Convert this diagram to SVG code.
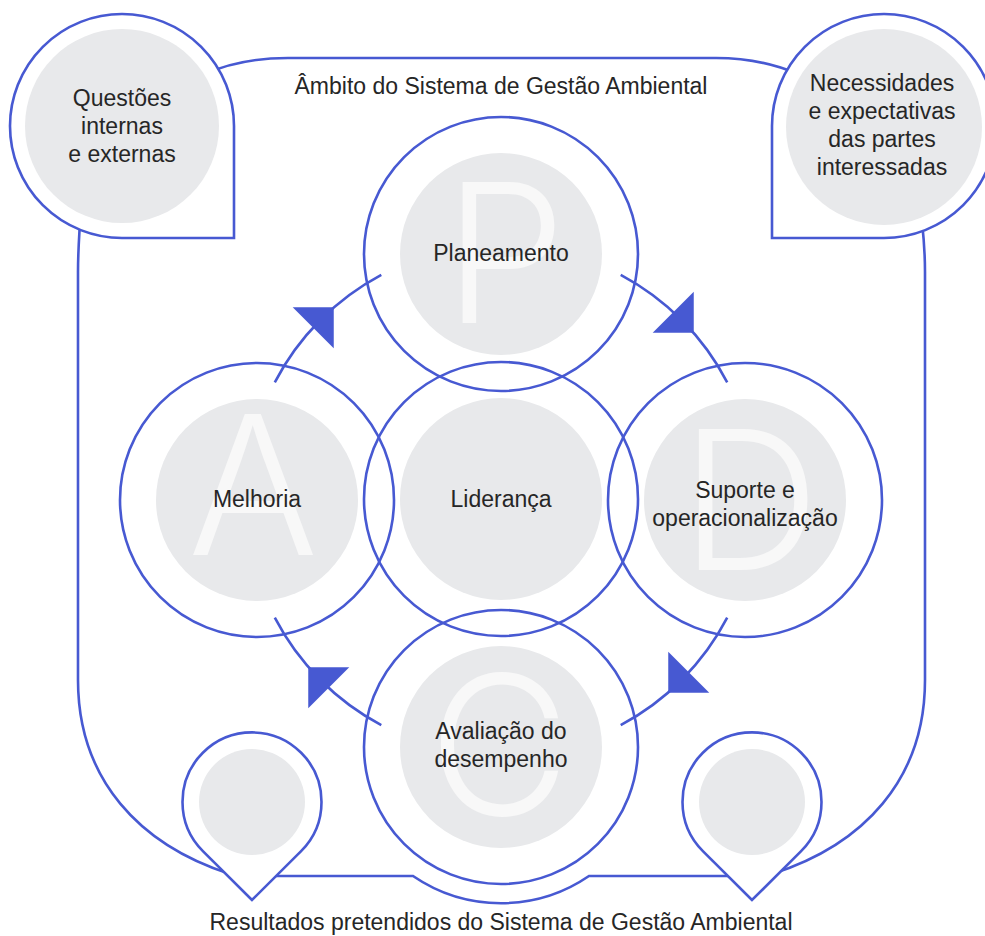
<svg xmlns="http://www.w3.org/2000/svg" width="985" height="936" viewBox="0 0 985 936">
<style>
.ln{fill:none;stroke:#4759d2;stroke-width:2.6}
.bub{fill:#ffffff;stroke:#4759d2;stroke-width:2.6}
.ring{fill:none;stroke:#4759d2;stroke-width:2.6}
.gray{fill:#e8e9eb}
.big{font-family:"Inter","Liberation Sans",sans-serif;font-weight:300;font-size:194px;fill:#f8f8f8;text-anchor:middle}
.t{font-family:"Liberation Sans","Arial",sans-serif;font-size:23px;fill:#262626;text-anchor:middle}
.arrow{fill:#4759d2}
</style>
<rect width="985" height="936" fill="#ffffff"/>
<g id="scope-frame">
<path class="ln" d="M 205 74 C 232 62 258 58 288 58 L 716 58 C 744 58 770 62 798 74"/>
<path class="ln" d="M 80 222 C 79 240 78 252 78 272 L 78 680 C 78 780 140 845 230 874"/>
<path class="ln" d="M 922 222 C 924 240 925 252 925 272 L 925 680 C 925 780 863 845 772 874"/>
<path class="ln" d="M 268 876 L 413 876 A 156 156 0 0 0 589 876 L 735 876"/>
<text class="t" x="501" y="94">Âmbito do Sistema de Gestão Ambiental</text>
<text class="t" x="501" y="930">Resultados pretendidos do Sistema de Gestão Ambiental</text>
</g>
<g id="bubble-internal-external">
<path class="bub" d="M 122 238 A 112 112 0 1 1 234 126 L 234 238 Z"/>
<circle class="gray" cx="122" cy="126" r="97"/>
<text class="t" x="122" y="106">Questões</text>
<text class="t" x="122" y="134">internas</text>
<text class="t" x="122" y="162">e externas</text>
</g>
<g id="bubble-needs">
<path class="bub" d="M 772 126 A 112 112 0 1 1 884 238 L 772 238 Z"/>
<circle class="gray" cx="884" cy="127" r="98"/>
<text class="t" x="882" y="91">Necessidades</text>
<text class="t" x="882" y="119">e expectativas</text>
<text class="t" x="882" y="147">das partes</text>
<text class="t" x="882" y="175">interessadas</text>
</g>
<g id="pin-left">
<path class="bub" d="M 252 900 L 202.9 851.1 A 69.5 69.5 0 1 1 301.1 851.1 Z"/>
<circle class="gray" cx="252" cy="802" r="53"/>
</g>
<g id="pin-right">
<path class="bub" d="M 752 900 L 702.9 851.1 A 69.5 69.5 0 1 1 801.1 851.1 Z"/>
<circle class="gray" cx="752" cy="802" r="53"/>
</g>
<g id="node-planeamento">
<circle class="gray" cx="501" cy="254" r="101"/>
<text class="big" x="505" y="323">P</text>
<text class="t" x="501" y="261">Planeamento</text>
</g>
<g id="node-melhoria">
<circle class="gray" cx="257" cy="500" r="101"/>
<text class="big" x="253" y="555">A</text>
<text class="t" x="257" y="507">Melhoria</text>
</g>
<g id="node-lideranca">
<circle class="gray" cx="501" cy="499" r="101"/>
<text class="t" x="501" y="507">Liderança</text>
</g>
<g id="node-suporte">
<circle class="gray" cx="745" cy="500" r="101"/>
<text class="big" x="750" y="570">D</text>
<text class="t" x="745" y="498">Suporte e</text>
<text class="t" x="745" y="526">operacionalização</text>
</g>
<g id="node-avaliacao">
<circle class="gray" cx="501" cy="747" r="101"/>
<text class="big" x="499" y="815">C</text>
<text class="t" x="501" y="739">Avaliação do</text>
<text class="t" x="501" y="767">desempenho</text>
</g>
<g id="rings">
<circle class="ring" cx="501" cy="254" r="137"/>
<circle class="ring" cx="257" cy="500" r="137"/>
<circle class="ring" cx="501" cy="499" r="137"/>
<circle class="ring" cx="745" cy="500" r="137"/>
<circle class="ring" cx="501" cy="747" r="137"/>
</g>
<g id="connectors">
<path class="ln" d="M 274.8 382.3 A 255 255 0 0 1 381.3 274.9"/>
<path class="ln" d="M 620.7 274.9 A 255 255 0 0 1 727.2 382.3"/>
<path class="ln" d="M 727.2 617.7 A 255 255 0 0 1 620.7 725.1"/>
<path class="ln" d="M 381.3 725.1 A 255 255 0 0 1 274.8 617.7"/>
<polygon class="arrow" points="-11,-29 18,0 -11,29" transform="translate(321 320) rotate(-45)"/>
<polygon class="arrow" points="-11,-29 18,0 -11,29" transform="translate(681 320) rotate(45)"/>
<polygon class="arrow" points="-11,-29 18,0 -11,29" transform="translate(681 680) rotate(135)"/>
<polygon class="arrow" points="-11,-29 18,0 -11,29" transform="translate(321 680) rotate(-135)"/>
</g>
</svg>
